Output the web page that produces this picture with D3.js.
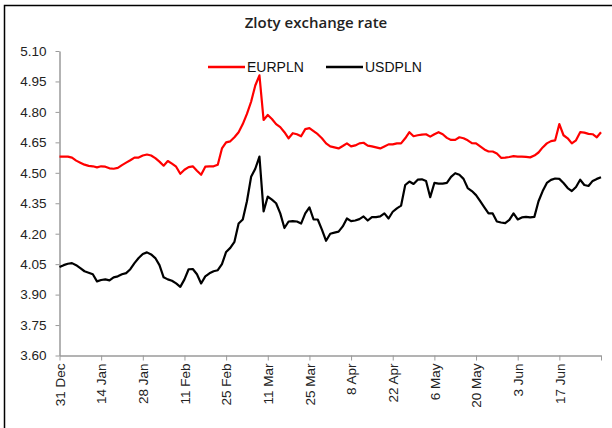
<!DOCTYPE html>
<html>
<head>
<meta charset="utf-8">
<script src="https://cdn.jsdelivr.net/npm/d3@7"></script>
<style>
  body { margin: 0; background: #fff; }
  svg { display: block; }
</style>
</head>
<body>
<div id="main"></div>
<script>
// one value per business day, 31 Dec to end of June
const eurpln = [
  4.58, 4.58, 4.58, 4.575, 4.56, 4.55, 4.54, 4.534, 4.532, 4.527,
  4.532, 4.53, 4.522, 4.52, 4.524, 4.538, 4.55, 4.562, 4.575, 4.575,
  4.585, 4.59, 4.585, 4.572, 4.555, 4.535, 4.558, 4.545, 4.53, 4.495,
  4.515, 4.528, 4.532, 4.51, 4.49, 4.53, 4.532, 4.532, 4.54, 4.62,
  4.65, 4.655, 4.675, 4.70, 4.74, 4.79, 4.85, 4.93, 4.98, 4.76,
  4.785, 4.765, 4.74, 4.725, 4.70, 4.67, 4.695, 4.69, 4.68, 4.715,
  4.72, 4.705, 4.69, 4.67, 4.645, 4.63, 4.625, 4.62, 4.632, 4.645,
  4.63, 4.635, 4.645, 4.648, 4.634, 4.63, 4.625, 4.62, 4.63, 4.64,
  4.64, 4.645, 4.645, 4.67, 4.70, 4.68, 4.685, 4.688, 4.69, 4.678,
  4.69, 4.70, 4.69, 4.672, 4.662, 4.662, 4.675, 4.67, 4.66, 4.646,
  4.645, 4.63, 4.615, 4.605, 4.605, 4.595, 4.574, 4.575, 4.578, 4.582,
  4.58, 4.58, 4.578, 4.576, 4.585, 4.60, 4.625, 4.645, 4.656, 4.66,
  4.74, 4.685, 4.67, 4.645, 4.66, 4.70, 4.698, 4.692, 4.69, 4.675,
  4.70
]

const usdpln = [
  4.036, 4.045, 4.052, 4.055, 4.045, 4.03, 4.015, 4.008, 4.0, 3.965,
  3.972, 3.975, 3.97, 3.985, 3.99, 4.0, 4.006, 4.025, 4.055, 4.08,
  4.1, 4.108, 4.098, 4.08, 4.045, 3.985, 3.975, 3.968, 3.955, 3.938,
  3.975, 4.025, 4.026, 4.0, 3.955, 3.99, 4.005, 4.015, 4.02, 4.05,
  4.11, 4.13, 4.16, 4.25, 4.27, 4.36, 4.48, 4.52, 4.58, 4.31,
  4.383, 4.368, 4.35, 4.3, 4.228, 4.26, 4.262, 4.26, 4.25, 4.3,
  4.33, 4.27, 4.27, 4.22, 4.165, 4.20, 4.205, 4.21, 4.236, 4.275,
  4.262, 4.265, 4.272, 4.285, 4.265, 4.282, 4.282, 4.285, 4.30, 4.275,
  4.308, 4.325, 4.338, 4.44, 4.457, 4.445, 4.466, 4.468, 4.46, 4.38,
  4.45, 4.447, 4.447, 4.45, 4.48, 4.498, 4.49, 4.47, 4.425, 4.41,
  4.39, 4.36, 4.33, 4.30, 4.3, 4.26, 4.255, 4.252, 4.268, 4.30,
  4.27, 4.28, 4.283, 4.28, 4.283, 4.36, 4.41, 4.45, 4.465, 4.472,
  4.47, 4.45, 4.425, 4.41, 4.43, 4.466, 4.44, 4.435, 4.46, 4.47,
  4.478
]

const xTickLabels = ['31 Dec', '14 Jan', '28 Jan', '11 Feb', '25 Feb', '11 Mar',
  '25 Mar', '8 Apr', '22 Apr', '6 May', '20 May', '3 Jun', '17 Jun']
const yTicks = [3.60, 3.75, 3.90, 4.05, 4.20, 4.35, 4.50, 4.65, 4.80, 4.95, 5.10]

const w = 612
const h = 428

const svg = d3.select('#main')
  .append('svg')
  .attr('width', w)
  .attr('height', h)

// outer frame (runs off right and bottom edge like the source)
svg.append('rect')
  .attr('x', 4.5)
  .attr('y', 5.5)
  .attr('width', 640)
  .attr('height', 460)
  .attr('fill', 'none')
  .attr('stroke', '#000')
  .attr('stroke-width', 1.5)

svg.append('text')
  .attr('x', 316)
  .attr('y', 28)
  .attr('text-anchor', 'middle')
  .attr('font-family', 'Open Sans, sans-serif')
  .attr('font-weight', 600)
  .attr('font-size', 15)
  .attr('fill', '#222')
  .text('Zloty exchange rate')

const xScale = d3.scaleLinear()
  .domain([0, 130])
  .range([59.5, 601])

const yScale = d3.scaleLinear()
  .domain([3.60, 5.10])
  .range([355.5, 51])

// y axis
const yAxis = d3.axisLeft(yScale)
  .tickValues(yTicks)
  .tickFormat(d3.format('.2f'))
  .tickSize(4)
  .tickSizeOuter(0)

const gy = svg.append('g')
  .attr('transform', 'translate(59.5,0)')
  .call(yAxis)
gy.select('.domain').attr('stroke', '#9a9a9a').attr('stroke-width', 1.5)
gy.selectAll('.tick line').attr('stroke', '#9a9a9a')
gy.selectAll('.tick text')
  .attr('x', -13)
  .attr('font-family', 'Liberation Sans, Arial, sans-serif')
  .attr('font-size', 13.5)
  .attr('fill', '#222')

// x axis, a tick every 10 business days
const xAxis = d3.axisBottom(xScale)
  .tickValues(d3.range(0, 131, 10))
  .tickFormat((d, i) => xTickLabels[i] || '')
  .tickSize(5)
  .tickSizeOuter(0)

const gx = svg.append('g')
  .attr('transform', 'translate(0,355.5)')
  .call(xAxis)
gx.select('.domain').attr('stroke', '#9a9a9a').attr('stroke-width', 1.5)
gx.selectAll('.tick line').attr('stroke', '#9a9a9a')
gx.selectAll('.tick text')
  .attr('transform', 'rotate(-90)')
  .attr('text-anchor', 'end')
  .attr('x', -8)
  .attr('y', 0)
  .attr('dy', '0.35em')
  .attr('font-family', 'Liberation Sans, Arial, sans-serif')
  .attr('font-size', 13.5)
  .attr('fill', '#222')

const line = d3.line()
  .x((d, i) => xScale(i))
  .y(d => yScale(d))

svg.append('path')
  .datum(usdpln)
  .attr('d', line)
  .attr('fill', 'none')
  .attr('stroke', '#000')
  .attr('stroke-width', 2.2)
  .attr('stroke-linejoin', 'round')

svg.append('path')
  .datum(eurpln)
  .attr('d', line)
  .attr('fill', 'none')
  .attr('stroke', '#ff0000')
  .attr('stroke-width', 2.2)
  .attr('stroke-linejoin', 'round')

// legend
const legendItems = [
  { name: 'EURPLN', color: '#ff0000', x: 208 },
  { name: 'USDPLN', color: '#000', x: 326 }
]
const lg = svg.append('g')
lg.selectAll('line')
  .data(legendItems)
  .enter()
  .append('line')
  .attr('x1', d => d.x)
  .attr('x2', d => d.x + 37)
  .attr('y1', 67)
  .attr('y2', 67)
  .attr('stroke', d => d.color)
  .attr('stroke-width', 2.5)
lg.selectAll('text')
  .data(legendItems)
  .enter()
  .append('text')
  .attr('x', d => d.x + 39)
  .attr('y', 72)
  .attr('font-family', 'Liberation Sans, Arial, sans-serif')
  .attr('font-size', 14)
  .attr('fill', '#111')
  .text(d => d.name)
</script>
</body>
</html>
